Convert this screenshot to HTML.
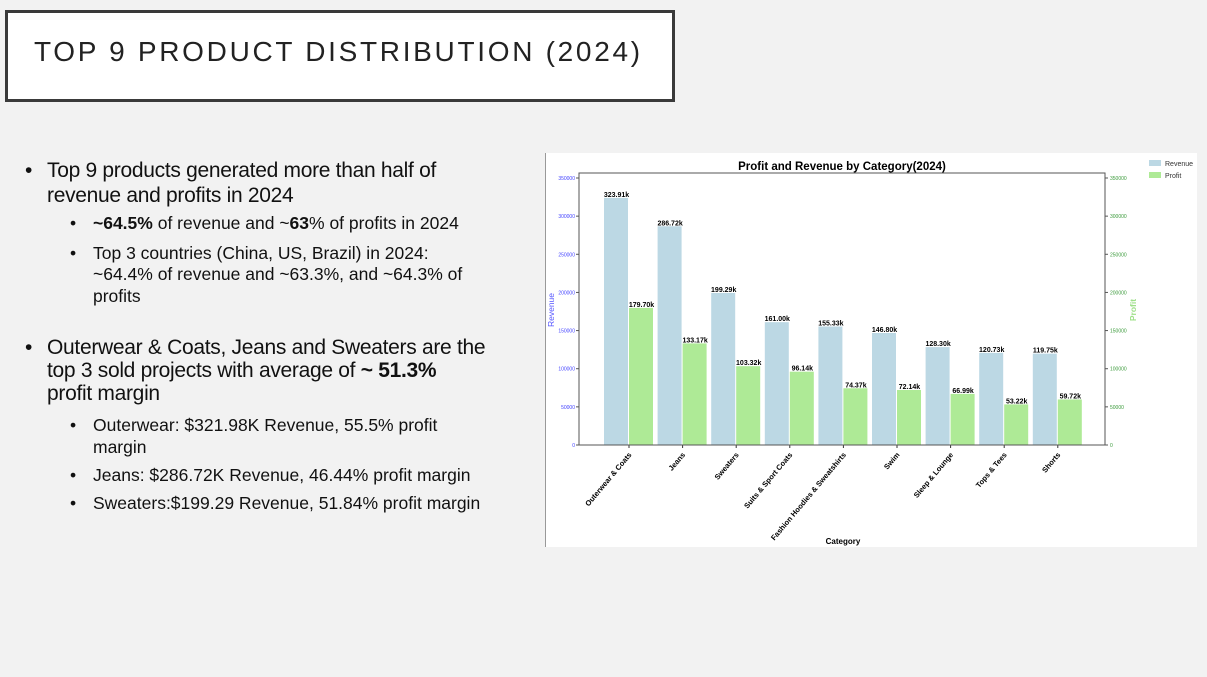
<!DOCTYPE html>
<html><head><meta charset="utf-8">
<style>
body{margin:0;width:1207px;height:677px;background:#f2f2f2;position:relative;overflow:hidden;font-family:"Liberation Sans",sans-serif;color:#111}
.t{position:absolute;white-space:nowrap;line-height:1}
.m{font-size:21px;letter-spacing:-0.3px}
.s{font-size:17.5px;letter-spacing:0px}
</style></head><body>
<div style="position:absolute;left:5px;top:10px;width:664px;height:86px;border:3px solid #3a3a3a;background:#fff"></div>
<div class="t" style="left:34px;top:38px;font-size:28px;letter-spacing:2.7px;color:#222">TOP 9 PRODUCT DISTRIBUTION (2024)</div>

<div>
<div class="t m" style="left:25px;top:160px">•</div>
<div class="t m" style="left:47px;top:160px">Top 9 products generated more than half of</div>
<div class="t m" style="left:47px;top:185px">revenue and profits in 2024</div>
<div class="t s" style="left:70px;top:215px">•</div>
<div class="t s" style="left:93px;top:215px"><b>~64.5%</b> of revenue and ~<b>63</b>% of profits in 2024</div>
<div class="t s" style="left:70px;top:245px">•</div>
<div class="t s" style="left:93px;top:245px">Top 3 countries (China, US, Brazil) in 2024:</div>
<div class="t s" style="left:93px;top:266px">~64.4% of revenue and ~63.3%, and ~64.3% of</div>
<div class="t s" style="left:93px;top:288px">profits</div>
<div class="t m" style="left:25px;top:337px">•</div>
<div class="t m" style="left:47px;top:337px">Outerwear &amp; Coats, Jeans and Sweaters are the</div>
<div class="t m" style="left:47px;top:360px">top 3 sold projects with average of <b>~ 51.3%</b></div>
<div class="t m" style="left:47px;top:383px">profit margin</div>
<div class="t s" style="left:70px;top:417px">•</div>
<div class="t s" style="left:93px;top:417px">Outerwear: $321.98K Revenue, 55.5% profit</div>
<div class="t s" style="left:93px;top:439px">margin</div>
<div class="t s" style="left:70px;top:467px">•</div>
<div class="t s" style="left:93px;top:467px">Jeans: $286.72K Revenue, 46.44% profit margin</div>
<div class="t s" style="left:70px;top:495px">•</div>
<div class="t s" style="left:93px;top:495px">Sweaters:$199.29 Revenue, 51.84% profit margin</div>
</div>

<svg id="chart" width="1207" height="677" style="position:absolute;left:0;top:0" font-family="Liberation Sans, sans-serif">
<rect x="546" y="153" width="651" height="394" fill="#fff"/>
<line x1="545.5" y1="153" x2="545.5" y2="547" stroke="#999"/>
<g id="g"></g>
</svg>
<script>
const categories=["Outerwear & Coats","Jeans","Sweaters","Suits & Sport Coats","Fashion Hoodies & Sweatshirts","Swim","Sleep & Lounge","Tops & Tees","Shorts"];
const revenue=[323910,286720,199290,161000,155330,146800,128300,120730,119750];
const profit=[179700,133170,103320,96140,74370,72140,66990,53220,59720];
const revLabels=["323.91k","286.72k","199.29k","161.00k","155.33k","146.80k","128.30k","120.73k","119.75k"];
const profLabels=["179.70k","133.17k","103.32k","96.14k","74.37k","72.14k","66.99k","53.22k","59.72k"];
const ticks=[0,50000,100000,150000,200000,250000,300000,350000];

const L=579,R=1105,T=173,B=445,X0=629,STEP=53.6,BW=25;
const y=v=>B-(v/350000)*(B-178);
const x=i=>X0+i*STEP;
const g=document.getElementById('g');
const NS='http://www.w3.org/2000/svg';
function mk(tag,a,txt){const e=document.createElementNS(NS,tag);for(const k in a)e.setAttribute(k,a[k]);if(txt!==undefined)e.textContent=txt;g.appendChild(e);return e;}

categories.forEach((c,i)=>{
  const r=mk('rect',{x:x(i)-BW,y:y(revenue[i]),width:BW-1,height:B-y(revenue[i]),fill:'#bcd8e4'});
  
  
  const p=mk('rect',{x:x(i),y:y(profit[i]),width:BW-1,height:B-y(profit[i]),fill:'#aeea96'});
  
  
  const rl=mk('text',{x:x(i)-BW/2,y:y(revenue[i])-1,'font-size':7,'font-weight':'bold','text-anchor':'middle'},revLabels[i]);
  
  
  const pl=mk('text',{x:x(i)+BW/2,y:y(profit[i])-1,'font-size':7,'font-weight':'bold','text-anchor':'middle'},profLabels[i]);
  
  
  mk('line',{x1:x(i),y1:B,x2:x(i),y2:B+3,stroke:'#333'});
  const tl=mk('text',{x:x(i)+3,y:B+10,'font-size':7.5,'font-weight':'bold','text-anchor':'end',transform:`rotate(-50 ${x(i)+3} ${B+10})`},c);
  
  
});
const frame=mk('rect',{x:L,y:T,width:R-L,height:B-T,fill:'none',stroke:'#555','stroke-width':1});


ticks.forEach(t=>{
  mk('line',{x1:L-3,y1:y(t),x2:L,y2:y(t),stroke:'#555'});
  const a=mk('text',{x:L-4,y:y(t)+2,'font-size':5,fill:'#4444ff','text-anchor':'end'},t);
  
  
  mk('line',{x1:R,y1:y(t),x2:R+3,y2:y(t),stroke:'#555'});
  const b=mk('text',{x:R+5,y:y(t)+2,'font-size':5,fill:'#3a9a3a'},t);
  
  
});
const ttl=mk('text',{x:842,y:170,'font-size':11.5,'font-weight':'bold','text-anchor':'middle'},'Profit and Revenue by Category(2024)');


const xt=mk('text',{x:843,y:544,'font-size':8,'font-weight':'bold','text-anchor':'middle'},'Category');


const yl=mk('text',{x:554,y:310,'font-size':8.5,fill:'#5555ff','text-anchor':'middle',transform:'rotate(-90 554 310)'},'Revenue');


const yr=mk('text',{x:1136,y:310,'font-size':8.5,fill:'#9fe08a','font-weight':'bold','text-anchor':'middle',transform:'rotate(-90 1136 310)'},'Profit');


const l1=mk('rect',{x:1149,y:160,width:12,height:6,fill:'#bcd8e4'});


const l1t=mk('text',{x:1165,y:166,'font-size':7,fill:'#333'},'Revenue');


const l2=mk('rect',{x:1149,y:172,width:12,height:6,fill:'#aeea96'});


const l2t=mk('text',{x:1165,y:178,'font-size':7,fill:'#333'},'Profit');


</script>
</body></html>
